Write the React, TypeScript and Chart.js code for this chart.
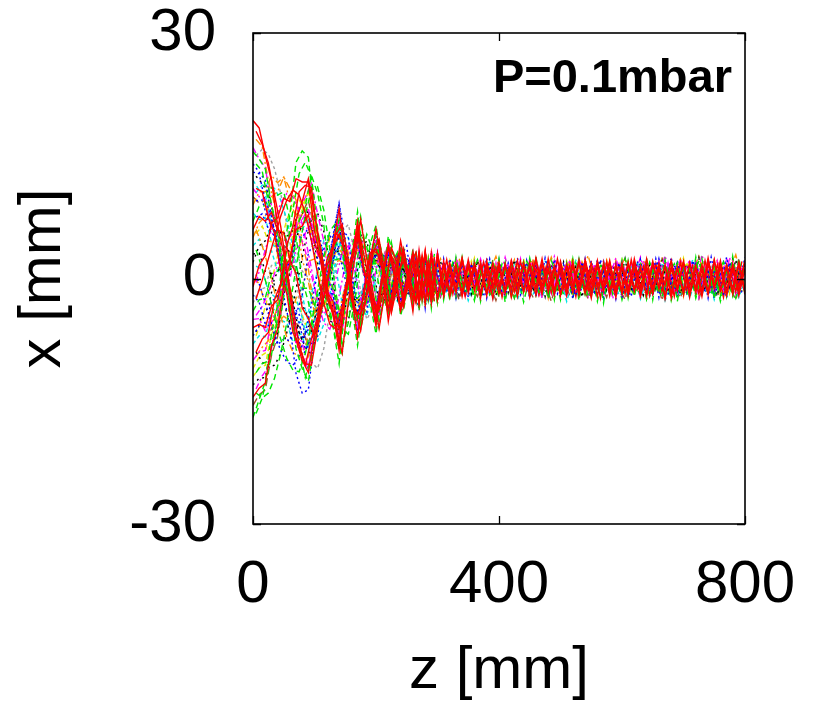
import React, { useEffect, useRef } from "react";
import { Chart, registerables } from "chart.js";
Chart.register(...registerables);

// z positions [mm] of the main trajectory samples
const Z = [0, 10, 20, 30, 40, 50, 60, 70, 80, 90, 100, 110, 120, 130, 140, 150, 160, 170, 180, 190, 200,
  210, 220, 230, 240, 250, 260, 270, 280, 290, 300, 310, 320, 330, 340, 350, 360, 370, 380, 390, 400,
  410, 420, 430, 440, 450, 460, 470, 480, 490, 500, 510, 520, 530, 540, 550, 560, 570, 580, 590, 600,
  610, 620, 630, 640, 650, 660, 670, 680, 690, 700, 710, 720, 730, 740, 750, 760, 770, 780, 790, 800];
// z positions [mm] of the interleaved trajectory samples
const ZH = [5, 15, 25, 35, 45, 55, 65, 75, 85, 95, 105, 115, 125, 135, 145, 155, 165, 175, 185, 195,
  205, 215, 225, 235, 245, 255, 265, 275, 285, 295, 305, 315, 325, 335, 345, 355, 365, 375, 385, 395,
  405, 415, 425, 435, 445, 455, 465, 475, 485, 495, 505, 515, 525, 535, 545, 555, 565, 575, 585, 595,
  605, 615, 625, 635, 645, 655, 665, 675, 685, 695, 705, 715, 725, 735, 745, 755, 765, 775, 785, 795];

const X_TICKS = [0, 400, 800];
const Y_TICKS = [-30, 0, 30];
const LABEL = "P=0.1mbar";

// full trajectories x(z) [mm] on Z
const F1 = [19.3, 18.4, 15.0, 12.0, 6.5, 3.0, -2.0, -7.5, -10.0, -11.5, -6.8, -3.8, 2.2, 4.0, 8.5, 2.5, -2.0, -7.2, -1.5, 2.2, 6.0,
  1.5, -5.2, -0.5, 4.6, 0.8, -4.0, 3.4, -3.0, 3.2, -2.6,
  2.1, -1.6, 1.8, -2.2, 1.5, -1.4, 2.0, -1.8, 1.2, -1.9,
  1.7, -1.3, 2.2, -1.6, 1.4, -2.0, 1.8, -1.2, 1.6, -1.9,
  1.3, -1.7, 2.0, -1.5, 1.9, -1.1, 1.5, -2.1, 1.7, -1.4,
  1.8, -1.6, 1.2, -1.9, 2.1, -1.3, 1.6, -1.8, 1.4, -2.0,
  1.9, -1.2, 1.7, -1.6, 2.2, -1.5, 1.3, -1.9, 1.8, -1.4];
const F2 = [15.5, 14.6, 13.4, 9.0, 6.2, 0.2, -2.8, -8.6, -11.0, -12.6, -7.8, -4.4, 1.6, 3.6, 7.2, 0.8, -3.2, -8.2, -2.6, 1.0, 5.4,
  0.2, -4.6, -1.2, 4.0, 1.2, -3.6, 3.0, -3.4, 2.6, -3.0,
  1.5, -2.3, 2.6, -1.4, 1.8, -2.5, 1.0, -1.7, 2.3, -1.2,
  2.0, -2.4, 1.3, -1.8, 2.5, -1.0, 1.7, -2.2, 1.1, -2.6,
  1.9, -1.5, 2.4, -1.9, 1.2, -2.3, 2.0, -1.1, 1.6, -2.0,
  2.2, -1.4, 1.7, -2.5, 1.0, -1.8, 2.3, -1.6, 1.9, -1.2,
  1.5, -2.1, 2.4, -1.3, 1.8, -2.2, 1.1, -1.7, 2.5, -1.5];
const F3 = [13.0, 12.8, 9.4, 7.8, 3.0, 1.0, -3.8, -5.8, -9.6, -8.0, -6.6, -1.4, 0.0, 5.2, 9.2, 4.8, -3.2, -4.4, -2.4, 3.6, 3.4,
  2.0, -3.8, -2.6, 2.6, 4.0, -2.2, -3.4, 3.2, -2.8, 3.0,
  -1.8, 1.5, -2.4, 2.0, -1.2, 1.9, -2.1, 1.4, -1.6, 2.3,
  -1.3, 1.8, -2.0, 1.1, -2.4, 1.7, -1.5, 2.1, -1.9, 1.2,
  -2.2, 1.6, -1.4, 2.4, -1.7, 1.0, -2.3, 1.8, -1.2, 2.0,
  -1.6, 2.2, -1.9, 1.3, -2.1, 1.5, -1.2, 2.6, -1.8, 1.4,
  -2.0, 1.7, -1.1, 2.3, -1.5, 1.9, -2.4, 1.2, -1.6, 2.1];
const F4 = [11.0, 10.0, 9.6, 5.8, 4.2, -0.3, -2.2, -6.8, -7.8, -11.0, -6.2, -3.8, 1.0, 2.8, 6.6, 1.6, -1.2, -6.2, -1.0, 1.4, 4.8,
  0.0, -3.8, -0.8, 3.6, 0.2, -2.6, 3.2, -1.6, 3.4, -1.2,
  2.2, -0.4, 2.5, 0.2, 2.0, -0.8, 2.4, 0.0, 1.8, -0.5,
  2.6, 0.1, 2.1, -0.7, 2.3, 0.4, 1.9, -0.3, 2.7, 0.0,
  2.0, -0.6, 2.4, 0.3, 1.7, -0.4, 2.2, 0.2, 2.5, -0.2,
  1.9, 0.1, 2.6, -0.5, 2.1, 0.3, 2.8, -0.2, 2.0, 0.4,
  2.3, -0.4, 2.9, 0.2, 1.8, -0.1, 2.5, 0.5, 2.2, 0.0];
const F5 = [8.0, 7.2, 7.4, 4.4, 3.4, -0.4, -1.6, -5.2, -5.4, -6.8, -3.8, -2.6, 1.2, 1.8, 5.0, 0.8, -1.0, -4.6, -0.4, 0.8, 3.8,
  -0.4, -3.2, -1.4, 2.8, 0.4, -2.4, -1.6, -0.6, -3.2, 0.6,
  -2.4, -0.3, -2.2, 0.1, -2.7, -0.5, -2.0, 0.2, -2.5, -0.4,
  -1.8, 0.0, -2.6, -0.6, -2.1, 0.3, -2.4, -0.2, -1.9, 0.1,
  -2.8, -0.3, -2.2, 0.2, -2.0, -0.5, -2.6, 0.0, -1.7, -0.4,
  -2.3, 0.3, -2.5, -0.2, -1.9, 0.1, -2.7, -0.6, -2.1, 0.2,
  -2.4, -0.1, -2.0, 0.4, -2.6, -0.3, -1.8, 0.1, -2.3, -0.2];
const F6 = [5.0, 6.8, 7.6, 10.0, 10.6, 12.4, 11.0, 9.6, 4.4, 1.2, -4.2, -3.8, -2.8, 1.8, 2.2, 1.8, -2.8, -2.8, -1.8, 2.6, 2.0,
  1.2, -3.0, -0.2, 3.0, -0.2, -2.4, 2.6, -0.6, -2.6, 2.4,
  0.1, -1.2, 1.6, 0.3, -1.5, 1.5, -0.2, -1.1, 1.7, 0.4,
  -1.2, 1.4, 0.2, -1.6, 1.5, -0.3, -1.0, 1.7, 0.4, -1.2,
  0.9, 0.5, -1.5, 1.3, 0.0, -1.6, 1.0, 0.6, -1.4, 1.1,
  0.2, -1.5, 1.2, 0.5, -1.3, 1.6, -0.1, -1.0, 1.5, 0.3,
  -1.3, 1.2, 0.4, -1.5, 1.4, -0.2, -1.2, 1.6, 0.3, -0.9];
const F7 = [2.0, 4.0, 4.6, 6.4, 5.4, 5.8, 2.8, 1.6, -3.2, -4.8, -8.2, -3.2, -1.4, 3.8, 7.0, 3.8, -3.0, -4.2, -2.6, 3.2, 2.8,
  0.6, -3.8, -0.4, 3.2, -1.0, 2.8, -3.0, 2.6, -2.4, 2.8,
  -1.2, 1.7, -1.8, 0.9, -1.4, 2.0, -0.8, 1.5, -1.9, 1.1,
  -1.6, 0.8, -2.0, 1.4, -1.0, 1.9, -1.5, 0.7, -1.8, 1.6,
  -0.9, 1.3, -1.7, 1.0, -2.1, 1.5, -1.1, 1.8, -1.4, 0.8,
  -1.9, 1.2, -1.0, 1.7, -1.5, 2.0, -0.8, 1.4, -1.7, 1.1,
  -1.3, 1.9, -1.6, 0.9, -2.0, 1.5, -1.2, 2.4, -0.9, 1.6];
const F8 = [-1.0, 1.6, 2.8, 6.8, 7.4, 9.8, 9.4, 12.2, 11.8, 11.8, 5.8, 2.4, -2.4, -4.2, -8.8, -2.2, 1.6, 6.2, 1.2, -1.6, -5.2,
  -0.2, 4.2, 0.2, -4.0, -1.0, 3.2, -2.8, 3.4, -3.0, 2.6,
  -2.0, 1.6, -1.4, 2.2, -1.8, 1.3, -2.4, 1.7, -1.1, 2.0,
  -1.7, 1.2, -2.2, 1.9, -1.3, 2.3, -1.6, 1.0, -2.0, 1.8,
  -1.4, 2.1, -1.8, 1.3, -2.4, 1.6, -1.0, 2.2, -1.9, 1.5,
  -2.1, 1.1, -1.6, 2.4, -1.2, 1.8, -2.3, 1.4, -1.5, 2.0,
  -1.8, 1.3, -2.2, 1.7, -1.0, 2.2, -1.7, 1.5, -2.1, 1.2];
const F9 = [-4.0, -2.6, -2.4, 0.6, 0.9, 2.8, 1.4, 1.6, -1.2, -1.2, -3.2, -0.8, -1.0, 2.2, 2.4, 1.6, -2.2, -2.4, -1.6, 1.8, 1.8,
  1.0, -2.8, -0.2, 2.4, -0.8, -2.2, 2.2, -2.6, 2.0, -3.0,
  0.8, -2.6, 1.1, -2.0, 0.5, -2.7, 0.9, -1.8, 0.4, -2.3,
  1.0, -2.2, 0.6, -2.9, 0.2, -2.1, 1.2, -2.5, 0.7, -1.9,
  0.3, -2.4, 0.9, -2.0, 0.5, -2.8, 1.1, -1.7, 0.6, -2.6,
  0.2, -2.2, 1.0, -2.5, 0.4, -1.9, 0.8, -2.7, 0.3, -2.1,
  1.1, -2.4, 0.5, -2.0, 0.9, -2.8, 0.2, -2.2, 0.7, -1.8];
const F10 = [-7.0, -5.8, -5.8, -2.8, -2.2, 1.4, 1.8, 5.2, 5.0, 6.2, 3.0, 2.0, -1.4, -2.0, -5.2, -0.8, 1.0, 4.8, 0.6, -1.0, -4.0,
  0.4, 3.6, 0.2, -3.4, 0.0, 2.8, -2.6, 2.2, -2.8, 1.6,
  -1.5, 2.4, -0.6, 1.7, -2.3, 0.9, -1.6, 2.5, -1.0, 1.3,
  -2.4, 1.4, -0.7, 2.0, -1.8, 0.5, -1.3, 2.2, -2.0, 1.0,
  -0.8, 1.9, -2.3, 0.6, -1.5, 2.3, -1.1, 0.8, -2.5, 1.6,
  -1.2, 0.7, -2.0, 1.8, -0.9, 2.4, -1.6, 0.5, -2.2, 1.3,
  -0.6, 2.0, -1.4, 1.1, -2.4, 0.8, -1.9, 1.7, -0.7, 2.6];
const F11 = [-10.0, -9.0, -8.8, -5.4, -3.9, 0.3, 2.2, 6.2, 7.2, 8.6, 5.0, 2.6, -1.6, -3.0, -6.6, -1.8, 1.4, 5.6, 1.0, -1.4, -4.6,
  0.2, 4.4, 0.8, -4.2, -0.4, 3.2, -3.4, 2.8, -2.4, 3.2,
  -1.6, 1.2, -2.5, 1.9, -1.0, 2.1, -1.8, 0.9, -2.2, 1.6,
  -1.1, 2.3, -1.6, 1.0, -2.1, 1.7, -2.4, 1.3, -0.9, 2.0,
  -2.0, 0.9, -1.5, 2.1, -1.3, 1.6, -2.2, 1.0, -1.7, 2.4,
  -1.0, 1.5, -2.4, 0.8, -1.7, 2.2, -1.3, 1.9, -2.0, 1.0,
  -1.6, 2.1, -0.8, 1.6, -2.2, 1.2, -1.5, 2.0, -1.8, 0.9];
const F12 = [-12.0, -10.9, -10.6, -6.8, -5.2, -0.3, 2.2, 6.8, 8.4, 10.8, 6.8, 3.8, -0.8, -2.8, -6.8, -1.4, 1.4, 5.8, 0.7, -1.2, -4.4,
  1.0, 3.2, -0.2, -2.6, 1.6, 0.8, -2.0, 2.8, -1.4, 2.2,
  -0.5, 2.2, -1.2, 1.4, -0.2, 2.5, -1.0, 1.8, -0.6, 2.0,
  -1.1, 1.3, -0.3, 2.4, -0.9, 1.6, -0.4, 2.1, -1.3, 1.2,
  -0.2, 2.6, -0.8, 1.5, -1.2, 2.0, -0.5, 1.7, -0.9, 2.3,
  -0.6, 1.4, -1.0, 2.2, -0.3, 1.9, -1.1, 1.3, -0.4, 2.5,
  -0.8, 1.8, -0.2, 2.0, -1.0, 1.5, -0.6, 2.4, -0.3, 1.7];
const F13 = [-14.5, -13.4, -12.8, -8.2, -6.2, -0.8, 1.8, 7.2, 9.4, 12.2, 7.8, 3.8, -1.8, -3.8, -7.8, -2.2, 2.0, 7.0, 1.2, -2.0, -5.8,
  -0.4, 3.8, 1.2, -3.8, -1.6, 1.8, -3.2, 3.2, -2.8, 3.0,
  -2.2, 1.0, -1.7, 2.5, -1.3, 1.8, -2.0, 1.1, -2.5, 1.5,
  -1.5, 2.1, -1.2, 1.6, -2.3, 1.2, -1.9, 2.4, -1.4, 1.1,
  -2.1, 1.7, -1.0, 2.0, -1.6, 2.2, -1.4, 1.2, -2.3, 1.8,
  -1.4, 2.0, -2.2, 1.1, -1.8, 1.6, -2.5, 1.2, -1.1, 2.1,
  -2.3, 1.4, -1.6, 2.2, -1.1, 1.8, -2.0, 1.0, -1.5, 2.2];
const F14 = [-17.0, -14.8, -12.6, -6.8, -3.2, 3.8, 7.8, 14.2, 15.6, 14.8, 7.2, 2.8, -3.2, -5.8, -10.4, -3.2, 2.8, 8.2, 1.8, -2.8, -6.8,
  -1.2, 5.2, 2.0, -4.6, -1.4, 3.6, -4.0, 3.2, -3.6, 2.8,
  -2.6, 1.8, -2.2, 2.6, -1.5, 2.0, -2.8, 1.3, -2.0, 2.4,
  -2.9, 1.6, -2.3, 2.0, -1.7, 2.7, -2.1, 1.4, -2.6, 1.9,
  -1.8, 2.4, -2.7, 1.5, -2.2, 2.1, -3.0, 1.8, -1.9, 2.2,
  -2.4, 1.3, -2.0, 2.5, -2.6, 1.7, -1.6, 2.3, -2.8, 1.5,
  -2.1, 2.6, -1.8, 1.9, -2.5, 1.4, -2.2, 2.7, -1.9, 1.6];
const F15 = [9.0, 10.6, 10.6, 12.6, 11.7, 12.4, 9.4, 7.6, 2.4, -0.4, -4.2, -2.4, -1.6, 2.6, 3.8, 2.4, -2.2, -3.4, -2.2, 2.6, 2.8,
  0.6, -3.6, -0.8, 3.4, 0.0, -3.0, 2.6, -2.6, 2.2, -3.0,
  1.8, -1.1, 2.0, -1.6, 1.2, -2.2, 1.6, -1.3, 2.1, -1.7,
  1.4, -2.0, 1.9, -1.2, 1.7, -1.8, 1.1, -2.4, 1.5, -1.3,
  2.1, -1.6, 1.3, -2.0, 1.8, -1.2, 1.6, -1.9, 2.2, -1.0,
  1.6, -2.1, 1.2, -1.4, 2.0, -1.7, 1.4, -1.3, 1.8, -2.2,
  1.2, -1.6, 2.1, -1.1, 1.5, -2.0, 1.9, -1.3, 1.1, -1.8];
const F16 = [14.0, 13.0, 12.0, 7.4, 4.2, -2.2, -5.8, -11.6, -14.0, -13.6, -7.4, -3.2, 2.2, 4.8, 9.2, 2.2, -2.2, -6.8, -1.2, 2.2, 5.8,
  0.8, -4.4, -1.6, 3.8, 1.0, -3.2, 3.0, -3.6, 2.6, -2.2,
  2.4, -1.7, 1.3, -2.1, 2.2, -1.0, 1.8, -2.4, 1.4, -1.6,
  2.0, -1.5, 2.5, -1.1, 1.6, -2.2, 1.3, -1.8, 2.3, -1.4,
  1.5, -2.5, 1.8, -1.2, 2.2, -1.8, 1.0, -2.0, 1.7, -2.4,
  1.1, -1.7, 2.3, -1.5, 1.6, -2.3, 1.9, -1.1, 2.2, -1.6,
  1.8, -1.3, 1.4, -2.4, 2.0, -1.0, 2.6, -1.5, 1.3, -2.0];
const F17 = [-6.0, -5.6, -6.0, -3.4, -2.6, 1.1, 2.4, 6.0, 6.4, 7.8, 4.4, 2.2, -1.6, -2.8, -6.2, -1.4, 1.6, 5.4, 1.0, -1.4, -4.2,
  0.2, 3.8, 0.6, -3.6, -0.2, 3.0, -2.4, 3.2, -2.0, 3.0,
  -1.0, 1.9, -1.5, 2.4, -0.8, 1.6, -1.9, 2.2, -1.2, 1.5,
  -1.8, 2.2, -0.9, 1.7, -1.5, 2.5, -1.0, 1.3, -1.7, 2.1,
  -1.1, 1.6, -2.0, 2.3, -0.7, 1.4, -1.6, 2.0, -1.3, 1.7,
  -1.7, 2.4, -1.0, 1.5, -1.9, 1.2, -0.8, 2.2, -1.4, 1.9,
  -1.0, 1.6, -1.8, 2.5, -1.2, 1.3, -2.0, 1.8, -0.9, 2.2];
const F18 = [4.0, 4.8, 3.2, 3.4, 0.9, 0.6, -2.1, -2.4, -4.8, -3.9, -4.1, -1.0, -0.4, 2.6, 2.9, 2.1, -1.8, -2.4, -1.6, 2.0, 2.0,
  0.9, -2.6, 0.0, 2.4, -0.2, -1.8, 2.1, -0.3, -2.2, 1.8,
  -0.2, -1.0, 1.3, 0.4, -1.3, 1.0, 0.2, -1.2, 1.2, -0.1,
  -1.1, 1.4, 0.3, -1.2, 0.9, 0.1, -1.4, 1.1, 0.5, -1.0,
  1.2, -0.3, -1.1, 1.3, 0.2, -1.2, 0.9, 0.4, -1.3, 1.0,
  -0.2, -1.1, 1.3, 0.0, -1.2, 1.1, 0.3, -1.4, 1.0, 0.2,
  -1.0, 1.4, -0.1, -1.2, 1.1, 0.4, -1.3, 0.8, 0.2, -1.1];
const F19 = [-3.0, -1.4, -1.1, 1.6, 1.9, 4.1, 3.2, 3.6, 0.9, 0.1, -2.6, -1.6, -1.6, 1.4, 1.9, 1.8, -1.6, -1.9, -1.4, 1.8, 1.4,
  0.4, -2.4, 0.9, 2.1, -1.2, -1.6, 2.2, -1.8, 2.4, -2.0,
  1.0, -2.0, 0.6, -1.4, 1.6, -0.9, 2.0, -1.6, 0.7, -1.2,
  1.7, -0.8, 1.2, -2.1, 0.9, -1.5, 1.5, -1.0, 2.2, -1.3,
  0.5, -1.8, 1.4, -0.9, 1.9, -1.6, 0.8, -1.1, 2.0, -1.4,
  1.2, -1.0, 1.8, -1.9, 0.6, -1.3, 2.1, -0.8, 1.4, -1.7,
  0.8, -1.5, 1.6, -1.0, 2.3, -1.2, 0.9, -1.8, 1.5, -0.7];
const F20 = [6.0, 7.6, 7.0, 8.1, 5.9, 5.6, 2.2, 0.6, -3.6, -4.9, -7.1, -3.4, -1.1, 3.8, 5.4, 3.1, -2.6, -4.4, -2.4, 3.1, 3.6,
  1.2, -3.8, -0.9, 3.4, 0.6, -2.6, 2.9, -3.0, 2.6, -2.4,
  1.6, -2.2, 1.2, -1.7, 2.3, -1.4, 1.5, -2.1, 1.9, -1.1,
  1.8, -2.3, 1.0, -1.6, 2.0, -1.2, 2.4, -1.7, 1.3, -2.1,
  1.7, -1.0, 2.2, -1.8, 1.1, -2.2, 1.9, -1.5, 1.4, -1.9,
  2.0, -1.3, 1.5, -2.2, 1.8, -1.0, 1.6, -2.4, 1.2, -1.5,
  1.9, -1.7, 1.1, -2.0, 2.3, -1.4, 1.7, -1.2, 2.0, -1.9];

// trajectories recorded over the first 300 mm, on Z
const E1 = [16.0, 14.6, 13.6, 8.9, 6.1, 0.4, -2.9, -8.1, -9.4, -11.1, -6.4, -3.4, 1.4, 3.9, 7.6, 2.2, -1.9, -6.4, -1.6, 2.0, 5.1, 0.2, -4.2, -1.2, 3.6, 0.6, -3.0, 2.8, -2.6, 2.4, -2.2];
const E2 = [12.0, 10.8, 10.4, 6.4, 4.6, 0.2, -1.9, -6.1, -7.2, -8.6, -5.2, -2.8, 1.1, 2.9, 6.1, 1.4, -1.4, -5.4, -1.0, 1.4, 4.2, -0.2, -3.4, -0.3, 3.0, 0.0, -2.6, 2.3, -2.4, 2.6, -1.8];
const E3 = [10.0, 9.2, 9.6, 6.8, 5.6, 1.4, -0.9, -5.4, -6.4, -8.1, -4.9, -2.6, 1.2, 2.6, 5.6, 1.2, -1.2, -4.8, -0.8, 1.2, 3.8, -0.4, -3.1, -0.4, 2.7, -0.1, -2.4, 2.1, -2.2, 1.9, -2.5];
const E4 = [7.0, 8.8, 8.9, 11.1, 10.2, 10.6, 7.2, 5.1, -0.1, -2.9, -6.6, -4.4, -2.1, 3.1, 5.4, 3.6, -3.1, -4.9, -2.6, 4.1, 6.5, 1.6, -4.6, -1.4, 3.8, 0.9, -3.2, 3.2, -2.9, 2.7, -2.6];
const E5 = [3.0, 3.1, 0.9, 0.6, -2.4, -2.9, -5.6, -5.6, -7.6, -5.9, -5.1, -1.2, -0.2, 3.1, 3.4, 2.1, -2.1, -2.9, -1.8, 2.2, 2.2, 0.9, -2.8, 0.0, 2.5, -0.2, -2.2, 2.0, -1.8, 2.1, -1.7];
const E6 = [0.0, -0.6, -3.1, -3.2, -5.4, -4.6, -5.2, -2.4, -1.4, 2.1, 2.4, 3.0, -0.1, -1.2, -4.1, -0.8, 0.8, 3.8, 0.4, -0.9, -3.2, 0.4, 2.6, -0.1, -2.4, 0.2, 2.1, -1.9, 2.0, -1.8, 1.6];
const E7 = [-2.0, -2.9, -5.6, -5.9, -8.1, -7.4, -7.6, -4.4, -2.1, 3.1, 4.4, 4.6, 0.4, -1.9, -5.6, -1.4, 0.9, 4.4, 0.6, -1.2, -3.6, 0.2, 3.0, 0.2, -2.8, 0.0, 2.4, -2.3, 2.2, -2.1, 1.9];
const E8 = [-5.0, -4.9, -6.4, -4.6, -4.6, -1.4, -0.1, 3.6, 4.4, 6.6, 3.9, 2.1, -1.4, -2.4, -5.4, -1.2, 1.2, 4.8, 0.8, -1.3, -4.0, 0.1, 3.2, 0.4, -3.0, -0.2, 2.6, -2.5, 2.4, -2.1, 2.6];
const E9 = [-8.0, -7.0, -7.1, -4.2, -3.2, 0.6, 2.0, 5.6, 6.0, 7.4, 4.2, 2.2, -1.2, -2.4, -5.2, -1.0, 1.2, 4.2, 0.5, -1.0, -3.6, 0.3, 2.9, 0.1, -2.6, 0.1, 2.3, -2.1, 2.2, -1.9, 2.0];
const E10 = [-11.0, -9.6, -9.1, -5.4, -3.6, 1.1, 3.4, 7.8, 8.9, 10.4, 6.4, 3.1, -1.1, -3.4, -7.1, -1.9, 1.4, 5.8, 1.2, -1.6, -4.6, 0.0, 3.6, 0.6, -3.2, -0.4, 2.8, -2.6, 2.5, -2.3, 2.1];
const E11 = [-13.0, -12.2, -12.1, -8.4, -6.6, -1.9, 0.4, 5.1, 6.4, 8.4, 4.9, 2.6, -1.6, -3.4, -6.8, -1.8, 1.8, 6.1, 1.0, -1.8, -5.0, -0.2, 3.8, 0.8, -3.4, -0.6, 3.0, -2.8, 2.6, -2.2, 2.4];
const E12 = [-15.5, -14.2, -13.6, -9.4, -7.1, -1.9, 0.9, 6.1, 7.9, 9.6, 5.9, 2.8, -1.8, -4.2, -8.1, -2.4, 2.0, 6.6, 1.4, -2.2, -5.6, -0.4, 4.1, 1.0, -3.6, -0.8, 3.2, -3.0, 2.8, -2.6, 2.2];

// trajectories recorded over the first 300 mm, on ZH
const G1 = [14.0, 13.1, 9.4, 7.4, 2.4, -0.6, -6.1, -8.4, -12.1, -9.4, -6.6, -0.9, 1.4, 6.1, 6.4, 2.1, -4.6, -6.2, -2.6, 3.6, 4.6, 1.6, -4.1, 1.1, 3.6, -1.0, -3.1, 2.8, -1.6, 3.0];
const G2 = [-9.0, -7.4, -6.6, -2.6, -0.6, 4.1, 6.4, 10.6, 11.4, 11.1, 5.4, 1.6, -3.1, -5.9, -9.1, -2.9, 2.2, 7.2, 2.4, -1.6, -6.1, -1.4, 3.8, 1.6, -3.4, 1.4, 3.2, -2.6, 2.0, -2.8];
const G3 = [9.5, 9.6, 6.9, 6.2, 2.4, 0.8, -3.6, -5.4, -8.6, -7.9, -7.1, -2.4, -0.1, 4.4, 5.9, 5.1, -1.6, -3.9, -4.1, 2.1, 3.4, 2.6, -3.1, -1.4, 3.2, 1.6, -2.4, 2.0, -2.8, 1.7];
const G4 = [-13.5, -11.9, -10.8, -6.4, -4.1, 1.1, 3.9, 8.6, 9.9, 11.6, 7.9, 4.6, -0.6, -2.4, -6.1, -3.4, -0.1, 4.8, 3.0, -0.2, -4.4, -1.9, 1.2, 3.0, -2.0, -1.2, 1.0, 1.8, -2.6, 1.2];
const G5 = [1.5, 1.1, -1.6, -2.2, -5.1, -5.4, -7.8, -6.9, -6.6, -1.9, 0.9, 4.6, 2.9, 1.1, -3.1, -3.4, -1.6, 3.4, 2.6, 0.8, -3.4, -1.0, 2.6, 0.6, -2.4, 0.2, 2.6, -0.2, -2.1, 2.1];
const G6 = [-6.5, -4.4, -3.6, 0.1, 1.4, 5.1, 5.9, 8.6, 7.6, 6.6, 1.9, -0.9, -5.1, -5.9, -6.6, -0.9, 2.4, 5.6, 0.4, -2.4, -4.4, 0.8, 2.4, 1.0, -3.2, 0.8, 1.6, -0.8, 1.2, -2.4];
const G7 = [17.0, 16.1, 11.9, 9.1, 3.4, 0.1, -5.1, -7.4, -10.6, -8.4, -6.1, -0.4, 2.4, 6.6, 5.9, 3.1, -3.6, -4.9, -3.6, 2.8, 3.9, 2.1, -3.2, -1.0, 3.0, 0.2, -2.8, 2.4, -1.8, 2.6];
const G8 = [5.5, 6.4, 4.6, 4.4, 1.4, 0.6, -2.6, -3.2, -5.6, -4.6, -4.4, -0.9, 0.4, 3.6, 3.2, 1.8, -2.6, -2.6, -1.6, 2.4, 2.0, 0.6, -2.8, 0.0, 2.4, 0.0, -2.2, 1.8, -2.1, 2.0];
const G9 = [-11.5, -10.4, -10.1, -6.4, -4.6, 0.1, 2.4, 7.1, 8.9, 12.6, 10.4, 6.6, 0.4, -2.9, -8.1, -5.4, -0.6, 5.6, 3.9, 0.1, -5.1, -2.0, 1.8, 3.2, -2.4, -1.6, 0.9, 2.5, -2.7, 1.4];
const G10 = [11.0, 10.6, 7.4, 5.6, 0.9, -1.9, -6.6, -8.2, -10.6, -7.4, -4.6, 0.6, 2.4, 5.6, 4.4, 1.6, -4.1, -4.4, -2.1, 3.4, 2.9, 0.1, -3.8, 0.6, 2.2, -0.2, -2.6, 2.6, -1.0, -1.2];
const K1 = [18.0, 16.4, 14.1, 10.2, 6.4, 1.2, -3.6, -8.2, -10.4, -10.6, -6.2, -2.4, 1.8, 5.4, 6.6, 2.2, -3.6, -6.4, -1.8, 3.2, 4.8, 0.4, -4.2, -0.6, 3.6, -0.4, -3.0, 2.8, -2.4, 2.6];
const K2 = [-16.5, -14.6, -11.2, -7.4, -1.8, 3.6, 8.4, 12.8, 14.2, 12.4, 6.2, 0.6, -3.8, -7.6, -9.2, -3.4, 3.4, 7.6, 2.8, -3.2, -6.0, -0.8, 4.4, 0.8, -3.8, 0.6, 3.4, -2.8, 2.4, -3.0];
const K3 = [7.5, 7.9, 6.1, 5.2, 2.2, 0.2, -3.4, -4.4, -6.8, -5.6, -4.8, -1.2, 0.8, 3.4, 4.6, 2.6, -2.2, -3.8, -1.4, 2.6, 3.0, 0.4, -3.0, -0.4, 2.8, 0.4, -2.6, 2.2, -2.2, 2.4];
const K4 = [-9.5, -8.4, -7.6, -4.6, -2.2, 1.6, 4.4, 7.2, 8.6, 8.2, 4.8, 1.2, -2.2, -4.6, -6.4, -1.6, 2.6, 5.2, 1.2, -2.4, -4.2, 0.4, 3.4, 0.2, -3.2, 0.2, 2.8, -2.2, 2.6, -2.0];
const K5 = [12.5, 11.6, 10.4, 7.2, 4.6, 0.4, -2.8, -6.6, -8.4, -9.2, -5.6, -2.8, 1.6, 4.2, 6.2, 1.4, -2.8, -5.6, -1.6, 2.2, 4.2, 0.6, -3.4, -0.8, 3.0, 0.2, -2.8, 2.6, -2.0, 2.2];
const K6 = [-4.5, -3.4, -1.8, 0.6, 2.8, 4.6, 5.6, 5.2, 3.4, 0.4, -2.8, -4.4, -3.2, 0.0, 3.2, 4.0, 1.2, -2.6, -3.4, -0.6, 2.6, 2.2, -1.6, -2.4, 1.0, 2.2, -1.2, -2.0, 1.6, 1.4];
const M1 = [0.5, -1.8, -4.2, -6.8, -8.8, -10.2, -10.6, -9.4, -6.8, -3.2, 0.8, 3.6, 5.2, 4.4, 1.6, -1.8, -4.2, -3.6, -0.6, 2.4, 3.2, 0.8, -2.4, -1.2, 2.2, 0.6, -2.0, 1.8, -1.6, 2.0];
const M2 = [-2.5, -0.2, 2.4, 5.0, 7.6, 9.6, 10.8, 10.2, 8.0, 4.6, 0.6, -3.0, -5.6, -6.2, -3.4, 0.8, 4.4, 4.8, 1.2, -2.6, -3.8, -0.6, 2.8, 1.0, -2.4, -0.6, 2.2, -2.0, 1.8, -1.6];
const M3 = [3.5, 1.2, -1.6, -4.8, -7.4, -9.8, -11.2, -11.4, -9.2, -5.6, -1.4, 2.6, 5.8, 6.8, 4.2, 0.2, -4.0, -5.4, -2.4, 1.8, 4.0, 1.6, -2.6, -2.0, 2.0, 1.2, -2.2, 1.4, -1.8, 2.2];
const M4 = [-0.5, 2.2, 4.8, 7.0, 9.2, 10.4, 10.0, 8.2, 5.0, 1.2, -2.8, -5.4, -6.2, -4.0, -0.2, 3.6, 5.0, 2.6, -1.4, -3.6, -2.0, 1.4, 3.0, 0.2, -2.6, -0.2, 2.4, -1.4, -1.6, 1.8];
const M5 = [10.5, 11.4, 11.6, 11.0, 9.6, 7.2, 3.8, 0.0, -3.8, -6.6, -7.6, -5.6, -2.0, 2.2, 5.6, 5.0, 1.2, -3.4, -4.6, -1.4, 2.8, 2.6, -1.8, -2.8, 1.0, 2.4, -1.2, -2.0, 1.8, 0.8];
const M6 = [-9.0, -10.2, -10.8, -10.6, -9.2, -6.6, -3.2, 0.6, 4.4, 7.2, 8.0, 5.8, 2.0, -2.4, -5.8, -5.2, -1.0, 3.6, 4.6, 1.2, -2.8, -2.6, 1.6, 2.8, -1.0, -2.2, 1.4, 1.8, -1.8, -0.6];
const M7 = [6.0, 4.0, 1.4, -1.6, -4.6, -7.2, -9.0, -9.6, -8.4, -5.4, -1.6, 2.2, 5.0, 5.8, 3.6, -0.2, -3.8, -4.6, -1.6, 2.2, 3.6, 0.8, -2.6, -1.4, 2.4, 0.4, -2.2, 2.0, -1.2, -1.8];
const M8 = [-7.0, -4.8, -2.0, 1.2, 4.4, 7.2, 9.0, 9.6, 8.4, 5.2, 1.4, -2.4, -5.0, -5.4, -3.0, 0.8, 4.0, 4.2, 1.0, -2.6, -3.4, -0.4, 2.8, 1.2, -2.4, -0.6, 2.2, -1.8, 2.0, -1.4];
const M9 = [15.0, 15.8, 15.2, 13.4, 10.4, 6.6, 2.2, -2.6, -7.0, -10.2, -11.0, -8.6, -4.0, 1.4, 5.8, 6.6, 3.4, -1.6, -5.0, -3.6, 0.8, 3.4, 1.6, -2.2, -2.4, 1.2, 2.2, -1.4, -1.6, 2.0];
const M10 = [-14.0, -14.6, -14.0, -12.2, -9.2, -5.4, -1.0, 3.6, 7.8, 10.8, 11.2, 8.4, 3.6, -1.8, -6.2, -6.8, -3.0, 2.2, 5.4, 3.4, -1.0, -3.4, -1.0, 2.6, 2.2, -1.6, -2.4, 1.6, 2.0, -1.2];

// trajectories recorded from 205 mm on, on ZH
const T1 = [3.5, -0.5, -3.8, -0.8, 3.0, 1.0, -2.6, -1.0, 2.4, 0.6,
  -2.2, -0.6, 2.0, 0.8, -1.8, -0.2, 2.3, 0.4, -2.0, -1.0,
  1.8, 0.5, -2.4, -0.3, 2.1, 1.0, -1.7, -0.8, 2.2, 0.2,
  -2.0, -0.5, 1.9, 0.7, -2.3, -0.4, 1.6, 1.1, -1.9, -0.2,
  2.4, 0.0, -1.8, -1.0, 2.0, 0.3, -2.2, 0.5, 1.8, -0.7,
  -2.1, 0.4, 2.2, -0.3, -1.7, 0.9, 2.0, -0.5, -2.4, 0.6];
const T2 = [2.8, -1.2, -1.6, 3.0, -1.4, -1.8, 2.4, -0.6, -2.0, 2.2,
  -1.0, -1.6, 2.0, -0.4, -1.8, 1.8, -0.8, -2.2, 2.4, -0.2,
  -1.6, 1.9, -0.6, -2.0, 2.2, -1.0, -1.4, 2.5, -0.5, -1.9,
  1.7, -0.8, -2.1, 2.0, -0.3, -1.7, 2.3, -1.1, -1.5, 1.9,
  -0.7, -2.2, 2.1, -0.4, -1.6, 2.4, -0.9, -2.0, 1.6, -0.2,
  -1.8, 2.2, -0.6, -1.5, 2.6, -1.2, -1.9, 2.0, -0.5, -1.7];
const T3 = [-3.2, 3.0, -2.6, 2.4, -2.2, 2.6, -1.8, 2.0, -2.4, 1.6,
  -1.9, 2.2, -1.5, 1.8, -2.3, 1.4, -1.7, 2.1, -1.2, 1.9,
  -2.0, 1.5, -1.6, 2.4, -1.1, 1.7, -2.2, 1.3, -1.8, 2.0,
  -1.4, 2.3, -1.9, 1.2, -2.1, 1.8, -1.3, 1.6, -2.5, 1.4,
  -1.6, 2.0, -1.2, 2.2, -1.8, 1.1, -2.0, 1.9, -1.5, 2.4,
  -1.1, 1.7, -2.3, 1.5, -1.7, 2.1, -1.4, 2.6, -1.9, 1.3];
const T4 = [-2.4, -2.8, 1.0, 3.0, 1.4, -2.2, -2.0, 1.2, 2.4, 0.6,
  -1.9, -1.6, 1.0, 2.2, 0.4, -1.8, -1.4, 1.5, 2.0, -0.2,
  -2.1, -0.8, 1.8, 1.6, -0.6, -2.0, -0.4, 2.1, 1.2, -1.2,
  -1.8, 0.3, 2.2, 0.8, -1.6, -1.5, 0.9, 2.0, 0.2, -2.0,
  -1.1, 1.4, 1.9, -0.4, -2.2, -0.6, 1.7, 1.4, -0.9, -1.9,
  0.1, 2.3, 0.9, -1.5, -1.7, 0.6, 2.1, 0.5, -1.8, -1.2];
const T5 = [2.6, -3.0, 2.2, -2.4, 2.0, -2.0, 1.8, -2.2, 1.5, -1.8,
  2.1, -1.4, 1.7, -2.0, 1.2, -1.9, 2.2, -1.3, 1.6, -2.1,
  1.4, -1.7, 2.3, -1.2, 1.9, -1.6, 1.1, -2.2, 1.8, -1.5,
  2.0, -1.1, 1.5, -2.3, 1.3, -1.8, 2.1, -1.4, 1.7, -1.0,
  2.4, -1.6, 1.2, -2.0, 1.6, -1.3, 2.2, -1.7, 1.0, -1.9,
  1.8, -1.2, 2.5, -1.5, 1.4, -2.1, 1.9, -1.0, 2.3, -1.6];
const T6 = [1.5, 3.2, -0.8, 0.5, 2.8, -0.5, 0.6, 2.6, -0.2, 0.4,
  2.4, -0.6, 0.8, 2.5, 0.0, 0.3, 2.2, -0.4, 0.9, 2.7,
  0.1, 0.2, 2.3, -0.7, 1.0, 2.4, -0.3, 0.5, 2.6, 0.2,
  -0.1, 2.1, -0.5, 0.8, 2.8, 0.0, 0.4, 2.3, -0.6, 1.1,
  2.5, -0.2, 0.6, 2.2, 0.3, -0.4, 2.6, -0.1, 0.7, 2.4,
  -0.5, 0.9, 2.7, 0.1, 0.2, 2.3, -0.3, 1.0, 2.9, -0.2];
const T7 = [-1.5, -3.0, 0.6, -0.8, -2.6, 0.4, -0.5, -2.5, 0.2, -0.7,
  -2.3, 0.5, -0.4, -2.6, 0.0, -0.9, -2.2, 0.3, -0.6, -2.7,
  -0.1, -0.3, -2.4, 0.6, -1.0, -2.2, 0.2, -0.5, -2.8, -0.2,
  0.1, -2.1, 0.4, -0.8, -2.5, 0.0, -0.6, -2.3, 0.5, -1.1,
  -2.6, 0.2, -0.5, -2.2, -0.3, 0.3, -2.7, 0.1, -0.8, -2.4,
  0.4, -0.9, -2.5, -0.1, -0.2, -2.3, 0.3, -1.0, -2.6, 0.0];
const T8 = [-2.8, 2.6, -2.2, 2.8, -1.8, 2.2, -2.4, 1.6, -2.0, 1.8,
  -1.5, 2.3, -1.9, 1.4, -2.2, 1.7, -1.2, 2.0, -1.8, 1.5,
  -2.3, 1.2, -1.6, 2.1, -1.4, 1.9, -2.0, 1.3, -1.7, 2.4,
  -1.2, 1.6, -2.2, 1.8, -1.5, 1.2, -2.4, 2.0, -1.1, 1.7,
  -1.9, 2.3, -1.3, 1.5, -2.1, 1.8, -1.6, 1.1, -2.2, 2.0,
  -1.4, 1.6, -1.9, 2.2, -1.2, 1.7, -2.3, 1.4, -1.6, 2.1];
const T9 = [0.8, -2.2, 1.8, 0.2, -1.6, 2.0, -0.8, -1.4, 1.6, 1.0,
  -1.8, 0.4, 1.9, -1.2, -0.6, 2.1, -1.5, 0.3, 1.4, -2.0,
  0.6, 1.2, -1.7, 0.9, -0.4, 1.8, -1.9, 0.5, 1.1, -1.3,
  1.7, -0.7, -1.2, 2.0, -0.3, -1.6, 1.5, 0.2, -2.1, 1.3,
  0.7, -1.5, 1.9, -0.9, -0.5, 1.6, -1.8, 1.0, 0.3, -1.7,
  2.0, -0.6, -1.1, 1.4, -1.4, 0.8, 1.7, -1.9, 0.4, 1.2];
const T10 = [1.8, -2.0, 1.4, -1.2, 1.0, -1.6, 1.2, -0.9, 1.5, -1.3,
  0.8, -1.4, 1.3, -1.0, 1.6, -0.7, 1.1, -1.5, 0.9, -1.2,
  1.4, -0.8, 1.2, -1.6, 0.7, -1.1, 1.5, -0.9, 1.0, -1.4,
  1.3, -0.6, 1.6, -1.2, 0.8, -1.5, 1.1, -1.0, 1.4, -0.8,
  0.9, -1.3, 1.2, -1.6, 1.0, -0.7, 1.5, -1.1, 0.8, -1.4,
  1.6, -0.9, 1.1, -1.2, 1.4, -1.0, 0.7, -1.5, 1.2, -0.6];

const RED = { color: "#ff0000", dash: [] as number[] };
const GREEN = { color: "#00e600", dash: [6, 4] };
const BLUE = { color: "#0000ff", dash: [2, 3] };
const MAGENTA = { color: "#ff00ff", dash: [6, 3, 2, 3] };
const CYAN = { color: "#00e5e5", dash: [4, 3] };
const SIENNA = { color: "#a0522d", dash: [8, 4] };
const ORANGE = { color: "#ff8c00", dash: [7, 3, 2, 3] };
const BLACK = { color: "#000000", dash: [2, 4] };
const YELLOW = { color: "#e6e600", dash: [5, 3] };
const GREY = { color: "#a0a0a0", dash: [3, 3] };

type Style = { color: string; dash: number[] };
type Series = { data: number[]; grid: number[]; start: number; style: Style };
const S = (data: number[], style: Style): Series => ({ data, grid: Z, start: 0, style });
const H = (data: number[], style: Style): Series => ({ data, grid: ZH, start: 0, style });
const HT = (data: number[], style: Style): Series => ({ data, grid: ZH, start: 20, style });

// drawing order: first entries end up on top
const SERIES: Series[] = [
  S(F1, RED), S(F8, RED), S(F13, RED), S(F17, RED), S(F20, RED), H(G2, RED), H(G10, RED), H(K1, RED), H(M2, RED),
  S(F2, GREEN), S(F14, GREEN), S(E4, GREEN), H(G1, GREEN), H(G9, GREEN), H(K2, GREEN), H(M3, GREEN), H(M10, GREEN), HT(T1, GREEN),
  S(F3, BLUE), S(F16, BLUE), S(F10, BLUE), S(E7, BLUE), H(G3, BLUE), H(K3, BLUE), H(M1, BLUE), HT(T2, BLUE),
  HT(T8, RED),
  S(F4, MAGENTA), S(F11, MAGENTA), S(E1, MAGENTA), S(E8, MAGENTA), H(G4, MAGENTA), H(K6, MAGENTA), H(M4, MAGENTA), HT(T3, MAGENTA),
  S(F7, BLACK), S(E5, BLACK), S(E11, BLACK), H(G6, BLACK), H(K5, BLACK), H(M6, BLACK), HT(T5, BLACK),
  S(F9, GREEN), S(F15, ORANGE), S(F6, ORANGE), S(E6, ORANGE), H(G7, ORANGE), H(K4, ORANGE), H(M7, ORANGE), HT(T6, ORANGE),
  S(F5, CYAN), S(F18, CYAN), S(E2, CYAN), S(E9, CYAN), H(G5, CYAN), H(M5, CYAN), HT(T4, CYAN),
  S(F12, YELLOW), S(E10, YELLOW), H(G8, YELLOW), H(M8, YELLOW), HT(T9, YELLOW),
  S(E3, SIENNA), S(E12, SIENNA), HT(T7, SIENNA),
  S(F19, GREY), H(M9, GREY), HT(T10, GREY),
];

const FONT = '"Liberation Sans", Arial, Helvetica, sans-serif';

const framePlugin = {
  id: "gnuplotFrame",
  afterDatasetsDraw(chart: any) {
    const { ctx, chartArea: a, scales } = chart;
    ctx.save();
    ctx.strokeStyle = "#000";
    ctx.lineWidth = 1.6;
    ctx.setLineDash([]);
    ctx.strokeRect(a.left, a.top, a.right - a.left, a.bottom - a.top);
    ctx.lineWidth = 1.3;
    const tl = 8;
    ctx.beginPath();
    for (const v of X_TICKS) {
      const px = Math.round(scales.x.getPixelForValue(v)) + 0.5;
      ctx.moveTo(px, a.bottom); ctx.lineTo(px, a.bottom - tl);
      ctx.moveTo(px, a.top); ctx.lineTo(px, a.top + tl);
    }
    for (const v of Y_TICKS) {
      const py = Math.round(scales.y.getPixelForValue(v)) + 0.5;
      ctx.moveTo(a.left, py); ctx.lineTo(a.left + tl, py);
      ctx.moveTo(a.right, py); ctx.lineTo(a.right - tl, py);
    }
    ctx.stroke();
    ctx.fillStyle = "#000";
    ctx.font = `bold 47px ${FONT}`;
    ctx.textAlign = "right";
    ctx.textBaseline = "alphabetic";
    ctx.fillText(LABEL, a.right - 13, a.top + 59);
    ctx.restore();
  },
};

export default function App() {
  const ref = useRef<HTMLCanvasElement | null>(null);
  useEffect(() => {
    document.body.style.margin = "0";
    const canvas = ref.current;
    if (!canvas) return;
    const datasets = SERIES.map((s) => ({
      data: s.data.map((v, i) => ({ x: s.grid[i + s.start], y: v })),
      borderColor: s.style.color,
      borderDash: s.style.dash,
      borderWidth: 1.4,
      pointRadius: 0,
      fill: false,
      tension: 0,
    }));
    const chart = new Chart(canvas, {
      type: "line",
      data: { datasets },
      plugins: [framePlugin],
      options: {
        animation: false,
        responsive: false,
        events: [],
        layout: { padding: { top: 33, right: 76, left: 0, bottom: 0 } },
        plugins: { legend: { display: false }, tooltip: { enabled: false } },
        scales: {
          x: {
            type: "linear",
            min: 0,
            max: 800,
            grid: { display: false, drawTicks: false },
            border: { display: false },
            afterFit: (s: any) => { s.height = 183; s.paddingLeft = 0; s.paddingRight = 0; },
            ticks: {
              stepSize: 400,
              autoSkip: false,
              maxRotation: 0,
              padding: 31,
              color: "#000",
              font: { family: FONT, size: 60, lineHeight: 1 },
            },
            title: {
              display: true,
              text: "z [mm]",
              color: "#000",
              font: { family: FONT, size: 60, lineHeight: 1 },
              padding: { top: 0, bottom: 6 },
            },
          },
          y: {
            type: "linear",
            min: -30,
            max: 30,
            grid: { display: false, drawTicks: false },
            border: { display: false },
            afterFit: (s: any) => { s.width = 253; s.paddingTop = 0; s.paddingBottom = 0; },
            ticks: {
              stepSize: 30,
              autoSkip: false,
              padding: 37,
              color: "#000",
              font: { family: FONT, size: 60, lineHeight: 1 },
            },
            title: {
              display: true,
              text: "x [mm]",
              color: "#000",
              font: { family: FONT, size: 60, lineHeight: 1 },
              padding: { top: 13, bottom: 0 },
            },
          },
        },
      },
    });
    return () => chart.destroy();
  }, []);
  return (
    <div style={{ position: "absolute", left: 0, top: 0, width: 821, height: 707, background: "#fff" }}>
      <canvas ref={ref} width={821} height={707} style={{ display: "block", width: 821, height: 707 }} />
    </div>
  );
}
